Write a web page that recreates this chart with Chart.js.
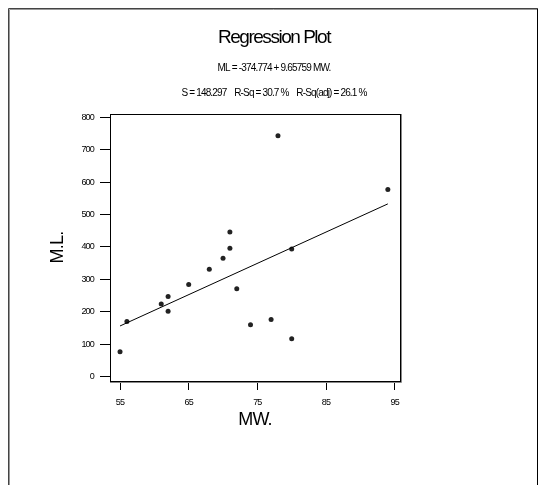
<!DOCTYPE html>
<html>
<head>
<meta charset="utf-8">
<script src="https://cdn.jsdelivr.net/npm/chart.js@4.4.1/dist/chart.umd.min.js"></script>
<style>
  html, body { margin: 0; padding: 0; background: #fff; }
  #wrap { width: 539px; height: 485px; }
</style>
</head>
<body>
<div id="wrap"><canvas id="regPlot"></canvas></div>
<script>
// Regression plot of M.L. against MW. (Minitab style)

// observed points
const mw = [55, 56, 61, 62, 62, 65, 68, 70, 71, 71, 72, 74, 77, 78, 80, 80, 94];
const ml = [77, 170, 224, 247, 202, 284, 331, 365, 396, 446, 271, 160, 176, 743, 117, 394, 577];

// fitted line end points (ML = -374.774 + 9.65759 MW.)
const fitX = [55, 94];
const fitY = [156.4, 533.0];

const xTicks = [55, 65, 75, 85, 95];
const yTicks = [0, 100, 200, 300, 400, 500, 600, 700, 800];

const titleText = 'Regression Plot';
const eqText = 'ML = -374.774 + 9.65759 MW.';
const statsText = 'S = 148.297    R-Sq = 30.7 %    R-Sq(adj) = 26.1 %';

const FONT = '"Liberation Sans", Arial, sans-serif';

// draw text squeezed to a given width (the original uses a condensed face)
function drawFitted(ctx, text, cx, cy, size, width) {
  ctx.save();
  ctx.font = size + 'px ' + FONT;
  ctx.letterSpacing = '0px';
  const w = ctx.measureText(text).width;
  const ls = (width - w) / text.length;
  ctx.letterSpacing = ls + 'px';
  ctx.fillStyle = '#000';
  ctx.textAlign = 'left';
  ctx.textBaseline = 'middle';
  ctx.fillText(text, cx - width / 2, cy);
  ctx.restore();
}

const framePlugin = {
  id: 'frame',
  beforeDraw(chart) {
    const ctx = chart.ctx;
    ctx.letterSpacing = '-0.8px';
    ctx.save();
    // page frame
    ctx.lineWidth = 1;
    ctx.strokeStyle = '#444';
    ctx.beginPath();
    ctx.moveTo(8.5, 485);
    ctx.lineTo(8.5, 8.5);
    ctx.lineTo(537.5, 8.5);
    ctx.stroke();
    ctx.strokeStyle = '#999';
    ctx.beginPath();
    ctx.moveTo(9.5, 485);
    ctx.lineTo(9.5, 9.5);
    ctx.lineTo(537, 9.5);
    ctx.stroke();
    ctx.strokeStyle = '#000';
    ctx.beginPath();
    ctx.moveTo(537.5, 8.5);
    ctx.lineTo(537.5, 485);
    ctx.stroke();
    ctx.restore();

    drawFitted(ctx, titleText, 274, 38, 19, 112);
    drawFitted(ctx, eqText, 274, 68, 10, 113);
    drawFitted(ctx, statsText, 274, 93, 10, 185);
  },
  afterDatasetsDraw(chart) {
    const {ctx, chartArea: a} = chart;
    ctx.save();
    ctx.strokeStyle = '#000';
    ctx.lineWidth = 1;
    ctx.strokeRect(a.left + 0.5, a.top + 0.5, a.right - a.left, a.bottom - a.top);
    ctx.strokeStyle = '#888';
    ctx.beginPath();
    ctx.moveTo(a.right + 1.5, a.top);
    ctx.lineTo(a.right + 1.5, a.bottom + 1.5);
    ctx.lineTo(a.left, a.bottom + 1.5);
    ctx.stroke();
    ctx.restore();
  }
};

const points = mw.map((x, i) => ({ x: x, y: ml[i] }));
const fitLine = fitX.map((x, i) => ({ x: x, y: fitY[i] }));

new Chart(document.getElementById('regPlot'), {
  type: 'scatter',
  data: {
    datasets: [
      {
        label: 'fit',
        data: fitLine,
        showLine: true,
        borderColor: '#000',
        borderWidth: 1,
        pointRadius: 0,
        fill: false
      },
      {
        label: 'data',
        data: points,
        pointRadius: 2.5,
        pointBackgroundColor: '#222',
        pointBorderWidth: 0
      }
    ]
  },
  options: {
    responsive: true,
    maintainAspectRatio: false,
    animation: false,
    layout: { padding: { left: 47, right: 139, top: 114, bottom: 54 } },
    plugins: {
      legend: { display: false },
      tooltip: { enabled: false }
    },
    scales: {
      x: {
        type: 'linear',
        min: 53.54,
        max: 95.77,
        afterBuildTicks: s => { s.ticks = xTicks.map(v => ({ value: v })); },
        afterFit: s => { s.height = 50; },
        grid: { drawOnChartArea: false, drawTicks: true, tickLength: 9, color: '#000', lineWidth: 1 },
        border: { display: false },
        ticks: { color: '#000', padding: 7, maxRotation: 0, font: { family: FONT, size: 9 } },
        title: { display: true, text: 'MW.', color: '#000', padding: 0, font: { family: FONT, size: 18 } }
      },
      y: {
        type: 'linear',
        min: -13.3,
        max: 810.2,
        afterBuildTicks: s => { s.ticks = yTicks.map(v => ({ value: v })); },
        afterFit: s => { s.width = 63; },
        grid: { drawOnChartArea: false, drawTicks: true, tickLength: 10, color: '#000', lineWidth: 1 },
        border: { display: false },
        ticks: { color: '#000', padding: 6, font: { family: FONT, size: 9 } },
        title: { display: true, text: 'M.L.', color: '#000', padding: 0, font: { family: FONT, size: 18 } }
      }
    }
  },
  plugins: [framePlugin]
});
</script>
</body>
</html>
